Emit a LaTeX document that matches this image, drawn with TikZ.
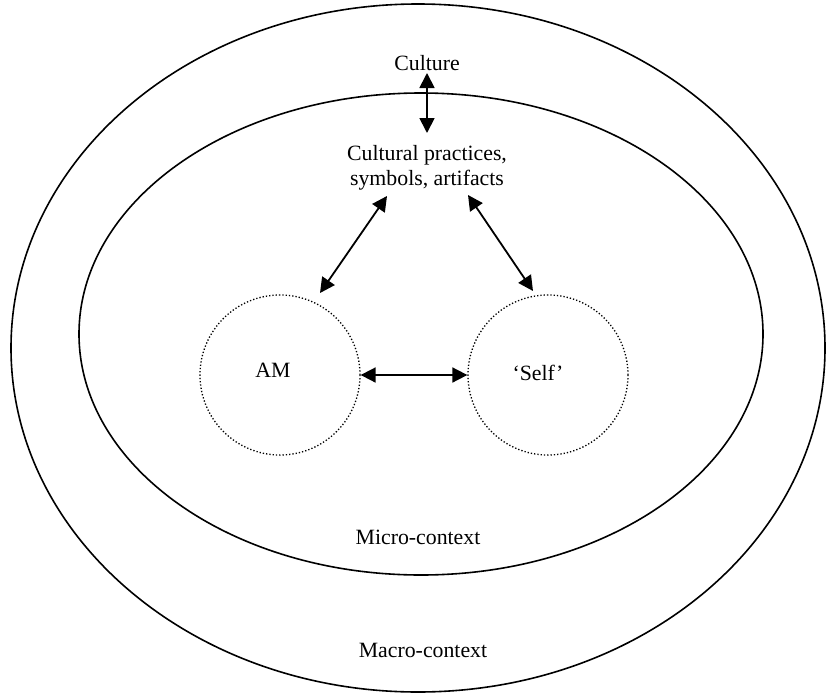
\documentclass[tikz,border=0pt]{standalone}
\usepackage{fontspec}
\setmainfont{Liberation Serif}
\usetikzlibrary{arrows.meta}
\begin{document}
\begin{tikzpicture}[x=1pt,y=-1pt,
  ring/.style={draw,line width=1.6pt},
  mem/.style={draw,circle,dotted,line width=1.3pt,minimum size=160pt,inner sep=0pt},
  lbl/.style={font=\fontsize{21.8}{25}\selectfont,inner sep=1pt,align=center},
  link/.style={line width=1.8pt,{Triangle[length=15pt,width=15pt]}-{Triangle[length=15pt,width=15pt]}}]
\useasboundingbox (0,0) rectangle (826,693);
\draw[ring] (418,348) ellipse [x radius=407, y radius=344];
\draw[ring] (421,334) ellipse [x radius=342, y radius=241];
\node[mem] (am) at (280,375) {};
\node[mem] (self) at (548,375) {};
\node[lbl] (amt) at (273,370) {AM};
\node[lbl] (selft) at (538,373) {‘Self’};
\node[lbl] (culture) at (427,63) {Culture};
\node[lbl] (cult) at (427,168) {Cultural practices,\\symbols, artifacts};
\node[lbl] (micro) at (418,537) {Micro-context};
\node[lbl] (macro) at (423,650) {Macro-context};
\coordinate (c1) at (427,73);
\coordinate (c2) at (427,133);
\coordinate (l1) at (387,196);
\coordinate (l2) at (320,293);
\coordinate (r1) at (468,195);
\coordinate (r2) at (533,291);
\draw[link] (c1) -- (c2);
\draw[link] (l1) -- (l2);
\draw[link] (r1) -- (r2);
\draw[link] (am.east) -- (self.west);
\end{tikzpicture}
\end{document}
